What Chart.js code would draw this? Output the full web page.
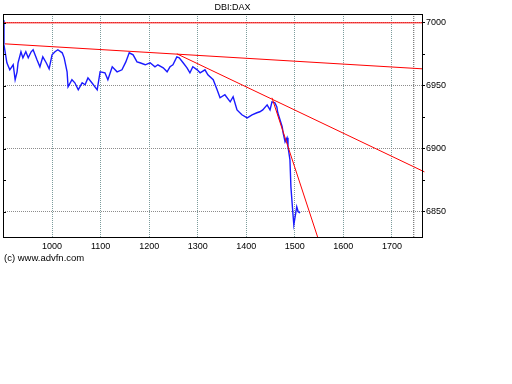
<!DOCTYPE html>
<html>
<head>
<meta charset="utf-8">
<script src="https://cdn.jsdelivr.net/npm/chart.js@4/dist/chart.umd.min.js"></script>
<style>
  body { margin: 0; background: #fff; width: 512px; height: 384px; position: relative; overflow: hidden; }
  #caja { position: absolute; left: 0; top: 0; width: 462px; height: 255px; }
  #copy { position: absolute; left: 4px; top: 252px; font: 9.5px "Liberation Sans", Arial, sans-serif; color: #000; }
</style>
</head>
<body>
<div id="caja"><canvas id="grafica"></canvas></div>
<div id="copy">(c) www.advfn.com</div>
<script>
// datos
const titulo = 'DBI:DAX';
const ejeXMin = 899;
const ejeXMax = 1762;
const ejeYMin = 6830;
const ejeYMax = 7007;
const primeraEtiquetaX = 1000;
const marcadorX = 1745;

const tiempos = [899, 901, 907, 913, 920, 924, 928, 930, 936, 940, 946, 951, 957, 961, 969, 975, 981, 988, 994,
  1000, 1006, 1012, 1021, 1025, 1031, 1033, 1041, 1047, 1054, 1062, 1068, 1074, 1082, 1093, 1099, 1109, 1115,
  1124, 1134, 1144, 1152, 1159, 1167, 1175, 1181, 1192, 1202, 1212, 1218, 1229, 1237, 1243, 1249, 1257, 1262,
  1270, 1278, 1284, 1290, 1299, 1305, 1315, 1321, 1332, 1340, 1346, 1356, 1367, 1373, 1381, 1391, 1402, 1412,
  1422, 1428, 1434, 1443, 1449, 1453, 1459, 1463, 1465, 1474, 1476, 1480, 1484, 1486, 1490, 1492, 1494, 1496,
  1498, 1502, 1504, 1507, 1511];
const precios = [7002.0, 6982.5, 6968.3, 6962.7, 6966.7, 6954.8, 6961.1, 6968.3, 6977.0, 6972.2, 6977.0, 6972.2,
  6977.0, 6978.6, 6970.6, 6965.1, 6973.0, 6968.3, 6963.5, 6974.6, 6977.0, 6978.6, 6976.2, 6972.2, 6961.1, 6949.2,
  6954.8, 6952.4, 6946.8, 6952.4, 6950.8, 6956.3, 6952.4, 6946.8, 6961.1, 6960.3, 6954.8, 6965.1, 6961.1, 6962.7,
  6969.0, 6976.2, 6974.6, 6969.0, 6968.3, 6966.7, 6968.3, 6965.1, 6966.7, 6964.3, 6961.1, 6965.1, 6966.7, 6973.0,
  6972.2, 6968.3, 6964.3, 6960.3, 6965.1, 6962.7, 6960.3, 6962.7, 6958.7, 6954.8, 6946.8, 6940.5, 6942.9, 6937.3,
  6941.3, 6930.9, 6927.0, 6924.6, 6927.0, 6928.6, 6929.4, 6930.9, 6934.9, 6930.9, 6937.3, 6936.5, 6933.3, 6928.6,
  6917.5, 6912.7, 6905.5, 6908.7, 6901.6, 6891.3, 6869.8, 6859.5, 6849.2, 6839.7, 6849.2, 6854.0, 6850.0, 6849.2];

// lineas de tendencia (x, y)
const tendenciaNivel = [[899, 7000], [1762, 7000]];
const tendenciaLarga = [[903, 6983.3], [1762, 6963.5]];
const tendenciaMedia = [[1257, 6975.4], [1767, 6881.7]];
const tendenciaCorta = [[1453, 6940.5], [1547, 6830]];

const aPuntos = (pares) => pares.map(([x, y]) => ({ x, y }));
const fuente = { family: '"Liberation Sans", Arial, sans-serif', size: 9 };

const lineaRoja = (pares, extra) => Object.assign({
  data: aPuntos(pares),
  borderColor: '#ff0000',
  borderWidth: 1,
  pointRadius: 0,
  order: 0,
}, extra || {});

// marco negro y marcas del eje izquierdo
const marco = {
  id: 'marco',
  afterDraw(chart) {
    const { ctx, chartArea: a, scales } = chart;
    ctx.save();
    ctx.strokeStyle = '#000';
    ctx.lineWidth = 1;
    ctx.strokeRect(a.left + 0.5, a.top + 0.5, a.right - a.left, a.bottom - a.top);
    ctx.beginPath();
    scales.y.ticks.forEach((t) => {
      const py = Math.round(scales.y.getPixelForValue(t.value)) + 0.5;
      ctx.moveTo(a.left, py);
      ctx.lineTo(a.left + 3, py);
    });
    ctx.stroke();
    ctx.restore();
  }
};

const grafica = document.getElementById('grafica');

new Chart(grafica, {
  type: 'line',
  data: {
    datasets: [
      lineaRoja(tendenciaNivel),
      lineaRoja(tendenciaLarga),
      lineaRoja(tendenciaMedia, { clip: { left: 0, top: 0, bottom: 0, right: 4 } }),
      lineaRoja(tendenciaCorta),
      {
        data: tiempos.map((t, i) => ({ x: t, y: precios[i] })),
        borderColor: '#1a1aff',
        borderWidth: 1.4,
        pointRadius: 0,
        tension: 0,
        order: 1,
      },
      {
        data: [{ x: marcadorX, y: ejeYMin }, { x: marcadorX, y: ejeYMax }],
        borderColor: '#555',
        borderWidth: 1,
        borderDash: [1, 1],
        pointRadius: 0,
        order: 2,
      },
    ]
  },
  options: {
    responsive: true,
    maintainAspectRatio: false,
    animation: false,
    layout: { padding: { left: 3, right: 0, top: 0, bottom: 0 } },
    plugins: {
      legend: { display: false },
      tooltip: { enabled: false },
      title: {
        display: true,
        text: titulo,
        color: '#000',
        font: { ...fuente, weight: 'normal', lineHeight: '12px' },
        padding: { top: 2, bottom: 0 },
      },
    },
    scales: {
      x: {
        type: 'linear',
        min: ejeXMin,
        max: ejeXMax,
        afterFit: (s) => { s.height = 18; },
        afterBuildTicks: (s) => { s.ticks = s.ticks.filter((t) => t.value >= primeraEtiquetaX); },
        ticks: {
          stepSize: 100,
          includeBounds: false,
          color: '#000',
          font: fuente,
          padding: 4,
          maxRotation: 0,
          callback: (v) => String(v),
        },
        grid: { color: '#7c9c9c', drawTicks: false, borderDash: [1, 1] },
        border: { display: false, dash: [1, 1] },
      },
      y: {
        position: 'right',
        min: ejeYMin,
        max: ejeYMax,
        afterFit: (s) => { s.width = 40; },
        ticks: {
          stepSize: 25,
          includeBounds: false,
          color: '#000',
          font: fuente,
          padding: 1,
          callback: (v) => (v % 50 === 0 ? String(v) : ''),
        },
        grid: {
          color: (c) => (c.tick && c.tick.value % 50 === 0 ? '#8c8c8c' : 'rgba(0,0,0,0)'),
          tickColor: '#000',
          tickLength: 3,
          borderDash: [1, 1],
        },
        border: { display: false, dash: [1, 1] },
      },
    },
  },
  plugins: [marco],
});
</script>
</body>
</html>
